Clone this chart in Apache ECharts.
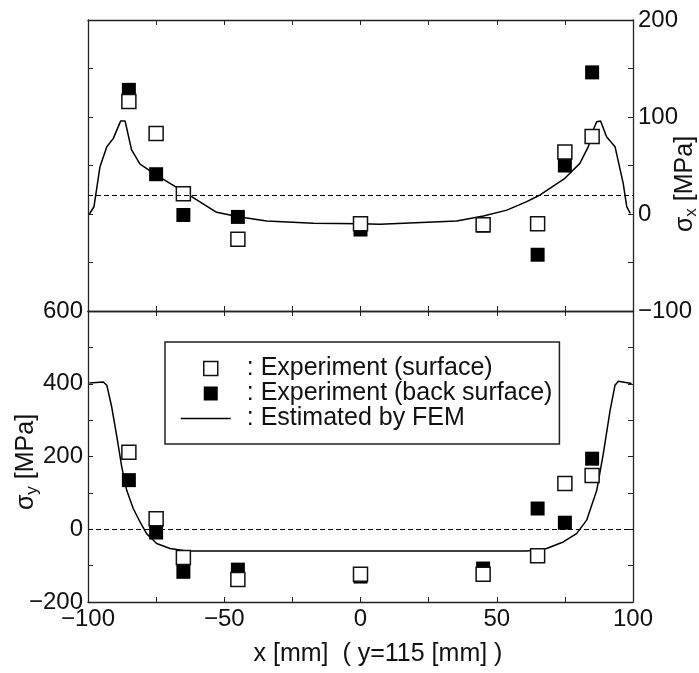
<!DOCTYPE html>
<html>
<head>
<meta charset="utf-8">
<script src="https://cdn.jsdelivr.net/npm/echarts@6/dist/echarts.min.js"></script>
<style>
  html, body { margin: 0; padding: 0; background: #fff; }
  #main { width: 699px; height: 673px; }
</style>
</head>
<body>
<div id="main"></div>
<script>
// measuring points x [mm]
const pointX = [-85, -75, -65, -45, 0, 45, 65, 75, 85];
// sigma_x (upper panel)
const sxSurface = [116, 83, 21, -26, -10, -11, -10, 64, 80];
const sxBack = [128, 41, -1, -3, -16, -12, -42, 50, 146];
// sigma_y (lower panel)
const sySurface = [212, 29, -78, -138, -124, -124, -73, 126, 148];
const syBack = [135, -9, -117, -111, -130, -108, 57, 18, 194];

// FEM curves
const femSxX = [-99.5, -97.8, -95.6, -93.1, -90.7, -88, -86.4, -84, -80.9, -74.9, -64.9, -52.8, -44.8, -34.4, -17.3, 0, 7.2, 35.3, 45.1, 53.7, 61, 65.9, 75, 80.5, 83.6, 85.4, 86.7, 88.1, 90.3, 93.4, 96.4, 97.7, 99];
const femSxY = [0, 7.5, 48.8, 69.4, 78, 96, 96, 66, 51.5, 40, 23, 1.7, -2.8, -7.2, -9.6, -10, -10.6, -7.2, -2, 4, 12.7, 19.6, 36.8, 52.2, 69.4, 86.6, 95.2, 95.9, 79.7, 69.4, 31.6, 7.5, 0.7];
const femSyX = [-99.5, -94.4, -93.1, -91.3, -89.4, -87.6, -85.8, -83.4, -80.9, -78.5, -74.8, -69.9, -63.8, 0, 61, 68.3, 74.4, 79.3, 83, 86.7, 89.1, 91.6, 93.4, 94.6, 99.5];
const femSyY = [402, 405, 396, 336, 254, 171, 107, 57, 20, -12, -39, -53, -60, -60, -60, -53, -35, -12, 25, 107, 208, 327, 396, 407, 401];

// dashed reference levels
const sxRefLevel = 19;
const syRefLevel = 0;

const names = ['Experiment (surface)', 'Experiment (back surface)', 'Estimated by FEM'];

const zip = (xs, ys) => xs.map((x, i) => [x, ys[i]]);
const fmt = (v) => (v < 0 ? '\u2212' + Math.abs(v) : String(v));

const FONT = '"Liberation Sans", Arial, sans-serif';
const AXIS_COLOR = '#222';

function baseAxis(extra) {
  return Object.assign({
    type: 'value',
    axisLine: { show: true, onZero: false, lineStyle: { color: AXIS_COLOR, width: 1.3 } },
    axisTick: { show: true, inside: true, length: 5, lineStyle: { color: AXIS_COLOR, width: 1 } },
    axisLabel: { show: false },
    splitLine: { show: false },
  }, extra);
}

const labelStyle = { color: '#111', fontSize: 24, fontFamily: FONT };

const axisNameRich = {
  s: { fontSize: 25, fontFamily: FONT, lineHeight: 30, verticalAlign: 'middle' },
  b: { fontSize: 17, fontFamily: FONT, lineHeight: 17, verticalAlign: 'bottom' },
};

let myCharts = echarts.init(document.getElementById('main'));

let option = {
  animation: false,
  backgroundColor: '#fff',
  grid: [
    { left: 88, right: 66, top: 20, height: 291 },
    { left: 88, right: 66, top: 311, height: 291 },
  ],
  xAxis: [
    baseAxis({ gridIndex: 0, position: 'bottom', min: -100, max: 100, interval: 25 }),
    baseAxis({ gridIndex: 0, position: 'top', min: -100, max: 100, interval: 25 }),
    baseAxis({
      gridIndex: 1, position: 'bottom', min: -100, max: 100, interval: 25,
      axisLabel: Object.assign({
        show: true, margin: 5,
        formatter: (v) => (v % 50 === 0 ? fmt(v) : ''),
      }, labelStyle),
    }),
    baseAxis({ gridIndex: 1, position: 'top', min: -100, max: 100, interval: 25 }),
  ],
  yAxis: [
    baseAxis({
      gridIndex: 0, position: 'right', min: -100, max: 200, interval: 50,
      axisLabel: Object.assign({
        show: true, margin: 5,
        formatter: (v) => (v % 100 === 0 ? fmt(v) : ''),
      }, labelStyle),
    }),
    baseAxis({ gridIndex: 0, position: 'left', min: -100, max: 200, interval: 50 }),
    baseAxis({
      gridIndex: 1, position: 'left', min: -200, max: 600, interval: 100,
      axisLabel: Object.assign({
        show: true, margin: 5,
        formatter: (v) => (v % 200 === 0 ? fmt(v) : ''),
      }, labelStyle),
    }),
    baseAxis({ gridIndex: 1, position: 'right', min: -200, max: 600, interval: 100 }),
  ],
  legend: {
    orient: 'vertical',
    left: 165,
    top: 342,
    padding: [14, 7, 13, 15],
    itemGap: 0,
    itemWidth: 50,
    itemHeight: 14,
    borderColor: AXIS_COLOR,
    borderWidth: 1.5,
    selectedMode: false,
    formatter: (name) => ': ' + name,
    textStyle: { color: '#111', fontSize: 25, fontFamily: FONT, lineHeight: 25, padding: [0, 0, 0, 11] },
    data: [
      {
        name: names[0],
        icon: 'path://M0 0M50 14M23 0H37V14H23Z',
        itemStyle: { color: '#fff', borderColor: '#111', borderWidth: 1.5 },
      },
      {
        name: names[1],
        icon: 'path://M0 0M50 14M23 0H37V14H23Z',
        itemStyle: { color: '#000', borderWidth: 0 },
      },
      {
        name: names[2],
        icon: 'path://M0 0M50 14M0 6.25H50V7.75H0Z',
        itemStyle: { color: '#000', borderWidth: 0 },
        lineStyle: { width: 0 },
      },
    ],
  },
  graphic: [
    {
      type: 'text', x: 26, y: 462, rotation: Math.PI / 2,
      style: { text: '{s|\u03c3}{b|y}{s| [MPa]}', align: 'center', verticalAlign: 'middle', fill: '#111', rich: axisNameRich },
    },
    {
      type: 'text', x: 685, y: 184, rotation: Math.PI / 2,
      style: { text: '{s|\u03c3}{b|x}{s| [MPa]}', align: 'center', verticalAlign: 'middle', fill: '#111', rich: axisNameRich },
    },
    {
      type: 'text', x: 378, y: 654,
      style: {
        text: 'x [mm]  ( y=115 [mm] )',
        align: 'center', verticalAlign: 'middle', fill: '#111',
        fontSize: 25, fontFamily: FONT,
      },
    },
  ],
  series: [
    // upper panel: sigma_x
    {
      name: names[2],
      type: 'line',
      xAxisIndex: 0,
      yAxisIndex: 0,
      data: zip(femSxX, femSxY),
      symbol: 'none',
      lineStyle: { color: '#000', width: 1.5 },
      itemStyle: { color: '#000' },
      markLine: {
        silent: true,
        symbol: 'none',
        label: { show: false },
        lineStyle: { color: '#000', width: 1.2, type: [5, 3] },
        data: [{ yAxis: sxRefLevel }],
      },
      z: 2,
    },
    {
      name: names[1],
      type: 'scatter',
      xAxisIndex: 0,
      yAxisIndex: 0,
      data: zip(pointX, sxBack),
      symbol: 'rect',
      symbolSize: 14,
      itemStyle: { color: '#000', opacity: 1 },
      z: 3,
    },
    {
      name: names[0],
      type: 'scatter',
      xAxisIndex: 0,
      yAxisIndex: 0,
      data: zip(pointX, sxSurface),
      symbol: 'rect',
      symbolSize: 14,
      itemStyle: { color: '#fff', borderColor: '#111', borderWidth: 1.5, opacity: 1 },
      z: 4,
    },
    // lower panel: sigma_y
    {
      name: names[2],
      type: 'line',
      xAxisIndex: 2,
      yAxisIndex: 2,
      data: zip(femSyX, femSyY),
      symbol: 'none',
      lineStyle: { color: '#000', width: 1.5 },
      itemStyle: { color: '#000' },
      markLine: {
        silent: true,
        symbol: 'none',
        label: { show: false },
        lineStyle: { color: '#000', width: 1.2, type: [5, 3] },
        data: [{ yAxis: syRefLevel }],
      },
      z: 2,
    },
    {
      name: names[1],
      type: 'scatter',
      xAxisIndex: 2,
      yAxisIndex: 2,
      data: zip(pointX, syBack),
      symbol: 'rect',
      symbolSize: 14,
      itemStyle: { color: '#000', opacity: 1 },
      z: 3,
    },
    {
      name: names[0],
      type: 'scatter',
      xAxisIndex: 2,
      yAxisIndex: 2,
      data: zip(pointX, sySurface),
      symbol: 'rect',
      symbolSize: 14,
      itemStyle: { color: '#fff', borderColor: '#111', borderWidth: 1.5, opacity: 1 },
      z: 4,
    },
  ],
};

myCharts.setOption(option);
</script>
</body>
</html>
